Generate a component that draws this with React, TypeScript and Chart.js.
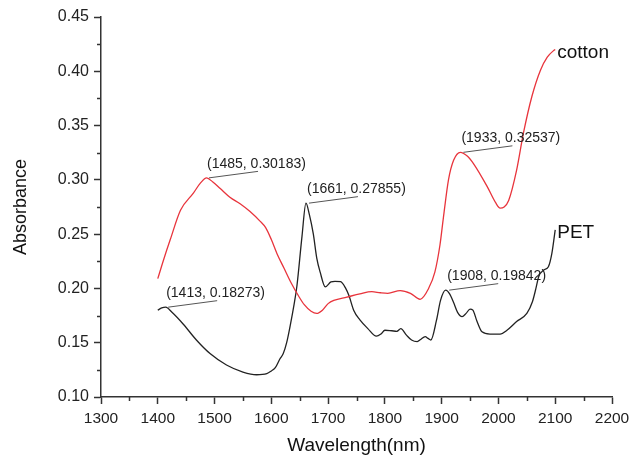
import { useEffect, useRef } from 'react';
import { Chart, registerables } from 'chart.js';

Chart.register(...registerables);

const seriesNames = ['cotton', 'PET'];
const seriesColors = ['#e8343c', '#222222'];

const cottonWavelength = [1400, 1410, 1422, 1440, 1463, 1475, 1486, 1497, 1510, 1527, 1545, 1562, 1580, 1590, 1600, 1610, 1622, 1635, 1648, 1658, 1670, 1680, 1690, 1700, 1710, 1733, 1756, 1777, 1792, 1805, 1827, 1845, 1862, 1877, 1888, 1897, 1903, 1912, 1921, 1933, 1945, 1956, 1980, 1995, 2003, 2010, 2018, 2032, 2044, 2059, 2074, 2086, 2097, 2100];
const cottonAbsorbance = [0.209, 0.226, 0.245, 0.272, 0.288, 0.297, 0.3018, 0.298, 0.292, 0.284, 0.278, 0.271, 0.262, 0.256, 0.245, 0.232, 0.219, 0.205, 0.193, 0.185, 0.179, 0.177, 0.18, 0.186, 0.189, 0.192, 0.195, 0.197, 0.196, 0.1955, 0.198, 0.1955, 0.19, 0.2, 0.215, 0.24, 0.265, 0.3, 0.318, 0.3254, 0.322, 0.315, 0.294, 0.279, 0.274, 0.275, 0.281, 0.309, 0.343, 0.377, 0.401, 0.413, 0.419, 0.42];

const petWavelength = [1400, 1407, 1414, 1425, 1445, 1468, 1492, 1521, 1550, 1574, 1592, 1600, 1607, 1615, 1621, 1627, 1633, 1640, 1645, 1654, 1661, 1667, 1674, 1680, 1686, 1695, 1705, 1712, 1722, 1731, 1737, 1745, 1756, 1770, 1785, 1793, 1800, 1812, 1821, 1828, 1838, 1847, 1857, 1863, 1871, 1876, 1881, 1891, 1898, 1907, 1914, 1921, 1928, 1936, 1943, 1950, 1955, 1962, 1971, 1985, 2003, 2015, 2032, 2050, 2060, 2066, 2071, 2080, 2088, 2094, 2100];
const petAbsorbance = [0.18, 0.182, 0.1827, 0.178, 0.167, 0.1525, 0.14, 0.1295, 0.123, 0.1205, 0.1215, 0.124, 0.127, 0.135, 0.14, 0.15, 0.165, 0.185, 0.202, 0.248, 0.2786, 0.268, 0.25, 0.228, 0.215, 0.2015, 0.206, 0.2065, 0.2062, 0.2, 0.193, 0.18, 0.171, 0.163, 0.156, 0.158, 0.1615, 0.161, 0.1605, 0.163, 0.157, 0.1525, 0.151, 0.153, 0.1556, 0.154, 0.1525, 0.171, 0.189, 0.1984, 0.195, 0.187, 0.178, 0.174, 0.177, 0.181, 0.18, 0.17, 0.16, 0.158, 0.158, 0.1615, 0.1695, 0.177, 0.188, 0.2, 0.211, 0.217, 0.22, 0.232, 0.254];

const peakWavelength = [1413, 1485, 1661, 1908, 1933];
const peakAbsorbance = [0.18273, 0.30183, 0.27855, 0.19842, 0.32537];

const xMin = 1300;
const xMax = 2200;
const xStep = 100;
const yMin = 0.1;
const yMax = 0.45;
const yStep = 0.05;

const FONT = '"Liberation Sans", Arial, Helvetica, sans-serif';

const overlayPlugin = {
  id: 'overlay',
  afterDraw(chart: any) {
    const { ctx, scales } = chart;
    const x = scales.x;
    const y = scales.y;
    ctx.save();
    // minor ticks
    ctx.strokeStyle = '#333';
    ctx.lineWidth = 1.5;
    for (let v = xMin + xStep / 2; v < xMax; v += xStep) {
      const px = Math.round(x.getPixelForValue(v)) + 0.5;
      ctx.beginPath();
      ctx.moveTo(px, y.bottom);
      ctx.lineTo(px, y.bottom + 4);
      ctx.stroke();
    }
    for (let v = yMin + yStep / 2; v < yMax; v += yStep) {
      const py = Math.round(y.getPixelForValue(v)) + 0.5;
      ctx.beginPath();
      ctx.moveTo(x.left - 4, py);
      ctx.lineTo(x.left, py);
      ctx.stroke();
    }
    // peak annotations
    ctx.font = `14px ${FONT}`;
    ctx.textBaseline = 'middle';
    ctx.textAlign = 'left';
    peakWavelength.forEach((w, i) => {
      const a = peakAbsorbance[i];
      const px = x.getPixelForValue(w);
      const py = y.getPixelForValue(a);
      ctx.strokeStyle = '#555';
      ctx.lineWidth = 1;
      ctx.beginPath();
      ctx.moveTo(px + 3, py);
      ctx.lineTo(px + 52, py - 6.5);
      ctx.stroke();
      ctx.fillStyle = '#222';
      ctx.fillText(`(${w}, ${a.toFixed(5)})`, px + 1, py - 14);
    });
    // series end labels
    ctx.font = `19px ${FONT}`;
    ctx.fillStyle = '#111';
    const ends = [
      [cottonWavelength[cottonWavelength.length - 1], cottonAbsorbance[cottonAbsorbance.length - 1]],
      [petWavelength[petWavelength.length - 1], petAbsorbance[petAbsorbance.length - 1]],
    ];
    ends.forEach(([w, a], i) => {
      const px = x.getPixelForValue(w);
      const py = y.getPixelForValue(a);
      ctx.fillText(seriesNames[i], px + 2, py + 3);
    });
    ctx.restore();
  },
};

export default function App() {
  const ref = useRef<HTMLCanvasElement | null>(null);

  useEffect(() => {
    if (!ref.current) return;
    const chart = new Chart(ref.current, {
      type: 'line',
      data: {
        datasets: [
          {
            label: seriesNames[0],
            data: cottonWavelength.map((w, i) => ({ x: w, y: cottonAbsorbance[i] })),
            borderColor: seriesColors[0],
            borderWidth: 1.3,
            pointRadius: 0,
            cubicInterpolationMode: 'monotone',
            fill: false,
          },
          {
            label: seriesNames[1],
            data: petWavelength.map((w, i) => ({ x: w, y: petAbsorbance[i] })),
            borderColor: seriesColors[1],
            borderWidth: 1.3,
            pointRadius: 0,
            cubicInterpolationMode: 'monotone',
            fill: false,
          },
        ],
      },
      options: {
        animation: false,
        responsive: false,
        events: [],
        layout: { padding: { left: 0, top: 17, right: 18, bottom: 0 } },
        plugins: {
          legend: { display: false },
          tooltip: { enabled: false },
        },
        scales: {
          x: {
            type: 'linear',
            min: xMin,
            max: xMax,
            afterFit: (s: any) => {
              s.height = 65;
              s.paddingLeft = 0;
              s.paddingRight = 0;
            },
            grid: {
              drawOnChartArea: false,
              drawTicks: true,
              tickLength: 7,
              tickColor: '#333',
              tickWidth: 1.5,
            },
            border: { display: true, color: '#333', width: 1.5 },
            ticks: {
              stepSize: xStep,
              padding: 5,
              color: '#222',
              font: { family: FONT, size: 15.5 },
              maxRotation: 0,
              callback: (v: any) => String(v),
            },
            title: {
              display: true,
              text: 'Wavelength(nm)',
              color: '#111',
              font: { family: FONT, size: 19 },
              padding: { top: 0, bottom: 5 },
            },
          },
          y: {
            type: 'linear',
            min: yMin,
            max: yMax,
            afterFit: (s: any) => {
              s.width = 101;
              s.paddingTop = 0;
              s.paddingBottom = 0;
            },
            grid: {
              drawOnChartArea: false,
              drawTicks: true,
              tickLength: 7,
              tickColor: '#333',
              tickWidth: 1.5,
            },
            border: { display: true, color: '#333', width: 1.5 },
            ticks: {
              stepSize: yStep,
              padding: 5,
              color: '#222',
              font: { family: FONT, size: 16 },
              callback: (v: any) => Number(v).toFixed(2),
            },
            title: {
              display: true,
              text: 'Absorbance',
              color: '#111',
              font: { family: FONT, size: 18 },
              padding: { top: 10, bottom: 0 },
            },
          },
        },
      },
      plugins: [overlayPlugin],
    });
    return () => chart.destroy();
  }, []);

  return (
    <div style={{ position: 'absolute', left: 0, top: 0, width: 630, height: 462, background: '#fff' }}>
      <canvas ref={ref} width={630} height={462} style={{ width: 630, height: 462, display: 'block' }} />
    </div>
  );
}
